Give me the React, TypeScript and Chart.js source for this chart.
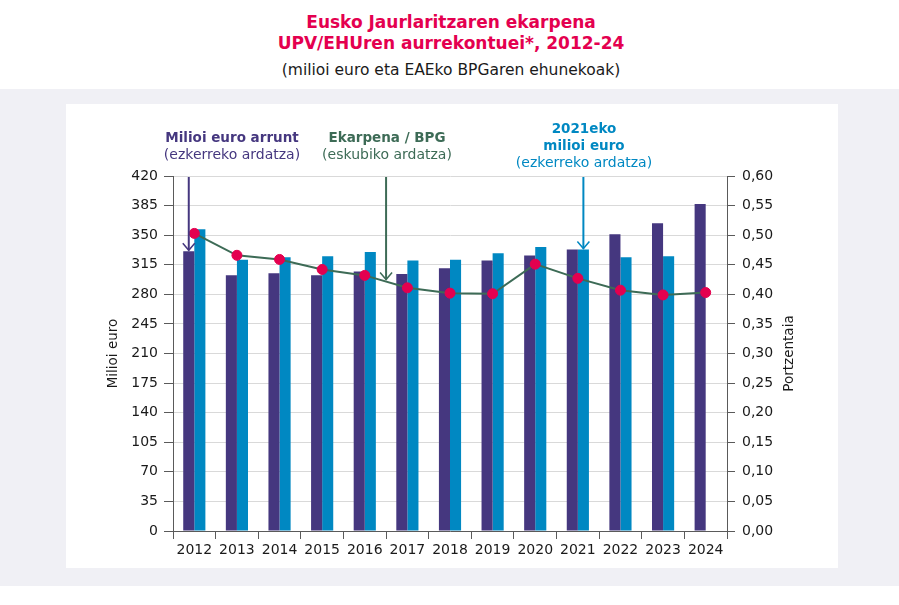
import React, { useEffect, useRef } from "react";
import { Chart, registerables } from "chart.js";

Chart.register(...registerables);

// ---------- data ----------
const years = ["2012", "2013", "2014", "2015", "2016", "2017", "2018", "2019", "2020", "2021", "2022", "2023", "2024"];
const currentEuros = [331, 302.5, 305, 302.5, 307, 304, 311, 320, 326, 333, 351, 364, 387];
const constantEuros2021 = [357, 321, 324, 325, 330, 320, 321, 328.5, 336, 333, 324, 325, null];
const gdpShare = [0.503, 0.466, 0.459, 0.442, 0.432, 0.411, 0.402, 0.401, 0.451, 0.427, 0.407, 0.399, 0.403];

const leftMax = 420;
const leftStep = 35;
const rightMax = 0.6;
const rightStep = 0.05;

const titleLines = ["Eusko Jaurlaritzaren ekarpena", "UPV/EHUren aurrekontuei*, 2012-24"];
const subtitle = "(milioi euro eta EAEko BPGaren ehunekoak)";
const leftAxisTitle = "Milioi euro";
const rightAxisTitle = "Portzentaia";
const purpleNote = ["Milioi euro arrunt", "(ezkerreko ardatza)"];
const greenNote = ["Ekarpena / BPG", "(eskubiko ardatza)"];
const blueNote = ["2021eko", "milioi euro", "(ezkerreko ardatza)"];

// ---------- styles ----------
const FONT = "'DejaVu Sans', sans-serif";
const PURPLE = "#45377f";
const BLUE = "#0088c2";
const GREEN = "#3d6b56";
const RED = "#e4004f";
const AXIS = "#5a5a5a";
const GRID = "#d9d9d9";
const TEXT = "#1a1a1a";

function drawArrow(ctx: CanvasRenderingContext2D, x: number, top: number, tip: number, color: string) {
  ctx.save();
  ctx.strokeStyle = color;
  ctx.lineWidth = 2;
  ctx.beginPath();
  ctx.moveTo(x, top);
  ctx.lineTo(x, tip);
  ctx.stroke();
  ctx.lineWidth = 1.5;
  ctx.beginPath();
  ctx.moveTo(x - 6, tip - 7);
  ctx.lineTo(x, tip);
  ctx.lineTo(x + 6, tip - 7);
  ctx.stroke();
  ctx.restore();
}

function drawNote(ctx: CanvasRenderingContext2D, lines: string[], cx: number, baseline: number, color: string, boldCount: number) {
  ctx.save();
  ctx.fillStyle = color;
  ctx.textAlign = "center";
  ctx.textBaseline = "alphabetic";
  lines.forEach((t, i) => {
    ctx.font = (i < boldCount ? "bold 13.5px " : "14px ") + FONT;
    ctx.fillText(t, cx, baseline + i * 17);
  });
  ctx.restore();
}

const annotationPlugin = {
  id: "notes",
  afterDatasetsDraw(chart: any) {
    const ctx = chart.ctx as CanvasRenderingContext2D;
    const xs = chart.scales.x;
    const top = chart.chartArea.top + 1;
    const purpleBar = chart.getDatasetMeta(0).data[0];
    drawArrow(ctx, purpleBar.x, top, purpleBar.y - 1, PURPLE);
    const line = chart.getDatasetMeta(2).data;
    const p4 = line[4];
    const p5 = line[5];
    const gx = (xs.getPixelForValue(4) + xs.getPixelForValue(5)) / 2;
    const gy = p4.y + ((p5.y - p4.y) * (gx - p4.x)) / (p5.x - p4.x);
    drawArrow(ctx, gx, top, gy - 2, GREEN);
    const blueBar = chart.getDatasetMeta(1).data[9];
    drawArrow(ctx, blueBar.x, top, blueBar.y - 1, BLUE);
  },
  afterDraw(chart: any) {
    const ctx = chart.ctx as CanvasRenderingContext2D;
    drawNote(ctx, purpleNote, 232, 142, PURPLE, 1);
    drawNote(ctx, greenNote, 387, 142, GREEN, 1);
    drawNote(ctx, blueNote, 584, 133, BLUE, 2);
    // right axis title, reading bottom-to-top like the left one
    const area = chart.chartArea;
    ctx.save();
    ctx.translate(789, (area.top + area.bottom) / 2);
    ctx.rotate(-Math.PI / 2);
    ctx.fillStyle = TEXT;
    ctx.font = "13.5px " + FONT;
    ctx.textAlign = "center";
    ctx.textBaseline = "middle";
    ctx.fillText(rightAxisTitle, 0, 0);
    ctx.restore();
  },
};

export default function App() {
  const ref = useRef<HTMLCanvasElement | null>(null);

  useEffect(() => {
    if (!ref.current) return;
    const chart = new Chart(ref.current, {
      type: "bar",
      data: {
        labels: years,
        datasets: [
          {
            type: "bar",
            label: "Milioi euro arrunt",
            data: currentEuros,
            backgroundColor: PURPLE,
            yAxisID: "y",
            order: 1,
            categoryPercentage: 0.52,
            barPercentage: 1,
          },
          {
            type: "bar",
            label: "2021eko milioi euro",
            data: constantEuros2021,
            backgroundColor: BLUE,
            yAxisID: "y",
            order: 1,
            categoryPercentage: 0.52,
            barPercentage: 1,
          },
          {
            type: "line",
            label: "Ekarpena / BPG",
            data: gdpShare,
            borderColor: GREEN,
            borderWidth: 2,
            pointRadius: 5,
            pointBorderWidth: 1,
            pointBackgroundColor: RED,
            pointBorderColor: RED,
            tension: 0,
            yAxisID: "y1",
            order: 0,
          } as any,
        ],
      },
      options: {
        responsive: false,
        animation: false,
        devicePixelRatio: 1,
        layout: { padding: { top: 176, left: 0, right: 0, bottom: 0 } },
        plugins: {
          legend: { display: false },
          tooltip: { enabled: false },
          title: { display: false },
        },
        scales: {
          x: {
            offset: true,
            grid: { drawOnChartArea: false, offset: true, tickLength: 8, tickColor: AXIS, color: AXIS },
            border: { color: AXIS, width: 1 },
            ticks: { color: TEXT, font: { family: FONT, size: 14 }, padding: 3, maxRotation: 0, autoSkip: false },
            afterFit: (s: any) => {
              s.height = 74;
            },
          },
          y: {
            position: "left",
            min: 0,
            max: leftMax,
            grid: { color: GRID, tickColor: AXIS, tickLength: 9, lineWidth: 1 },
            border: { color: AXIS, width: 1 },
            ticks: { stepSize: leftStep, color: TEXT, font: { family: FONT, size: 14 }, padding: 6 },
            title: {
              display: true,
              text: leftAxisTitle,
              color: TEXT,
              font: { family: FONT, size: 13.5 },
              padding: { top: 105, bottom: 0 },
            },
            afterFit: (s: any) => {
              s.width = 173;
            },
          },
          y1: {
            position: "right",
            min: 0,
            max: rightMax,
            grid: { drawOnChartArea: false, tickColor: AXIS, tickLength: 8 },
            border: { color: AXIS, width: 1 },
            ticks: {
              stepSize: rightStep,
              color: TEXT,
              font: { family: FONT, size: 14 },
              padding: 7,
              callback: (v: any) => Number(v).toFixed(2).replace(".", ","),
            },
            title: { display: false },
            afterFit: (s: any) => {
              s.width = 172;
            },
          },
        },
      } as any,
      plugins: [annotationPlugin as any],
    });
    return () => chart.destroy();
  }, []);

  return (
    <div style={{ position: "relative", width: 899, height: 605, background: "#ffffff", overflow: "hidden" }}>
      <style>{`body{margin:0}`}</style>
      <div style={{ position: "absolute", left: 0, top: 89, width: 899, height: 497, background: "#f0f0f5" }} />
      <div style={{ position: "absolute", left: 66, top: 104, width: 772, height: 464, background: "#ffffff" }} />
      <div
        style={{
          position: "absolute",
          left: 0,
          top: 12,
          width: 902,
          textAlign: "center",
          fontFamily: FONT,
          fontWeight: "bold",
          fontSize: 17,
          lineHeight: "21px",
          color: RED,
        }}
      >
        {titleLines.map((t) => (
          <div key={t}>{t}</div>
        ))}
      </div>
      <div
        style={{
          position: "absolute",
          left: 0,
          top: 61,
          width: 902,
          textAlign: "center",
          fontFamily: FONT,
          fontSize: 15.5,
          lineHeight: "18px",
          color: TEXT,
        }}
      >
        {subtitle}
      </div>
      <canvas ref={ref} width={899} height={605} style={{ position: "absolute", left: 0, top: 0 }} />
    </div>
  );
}
